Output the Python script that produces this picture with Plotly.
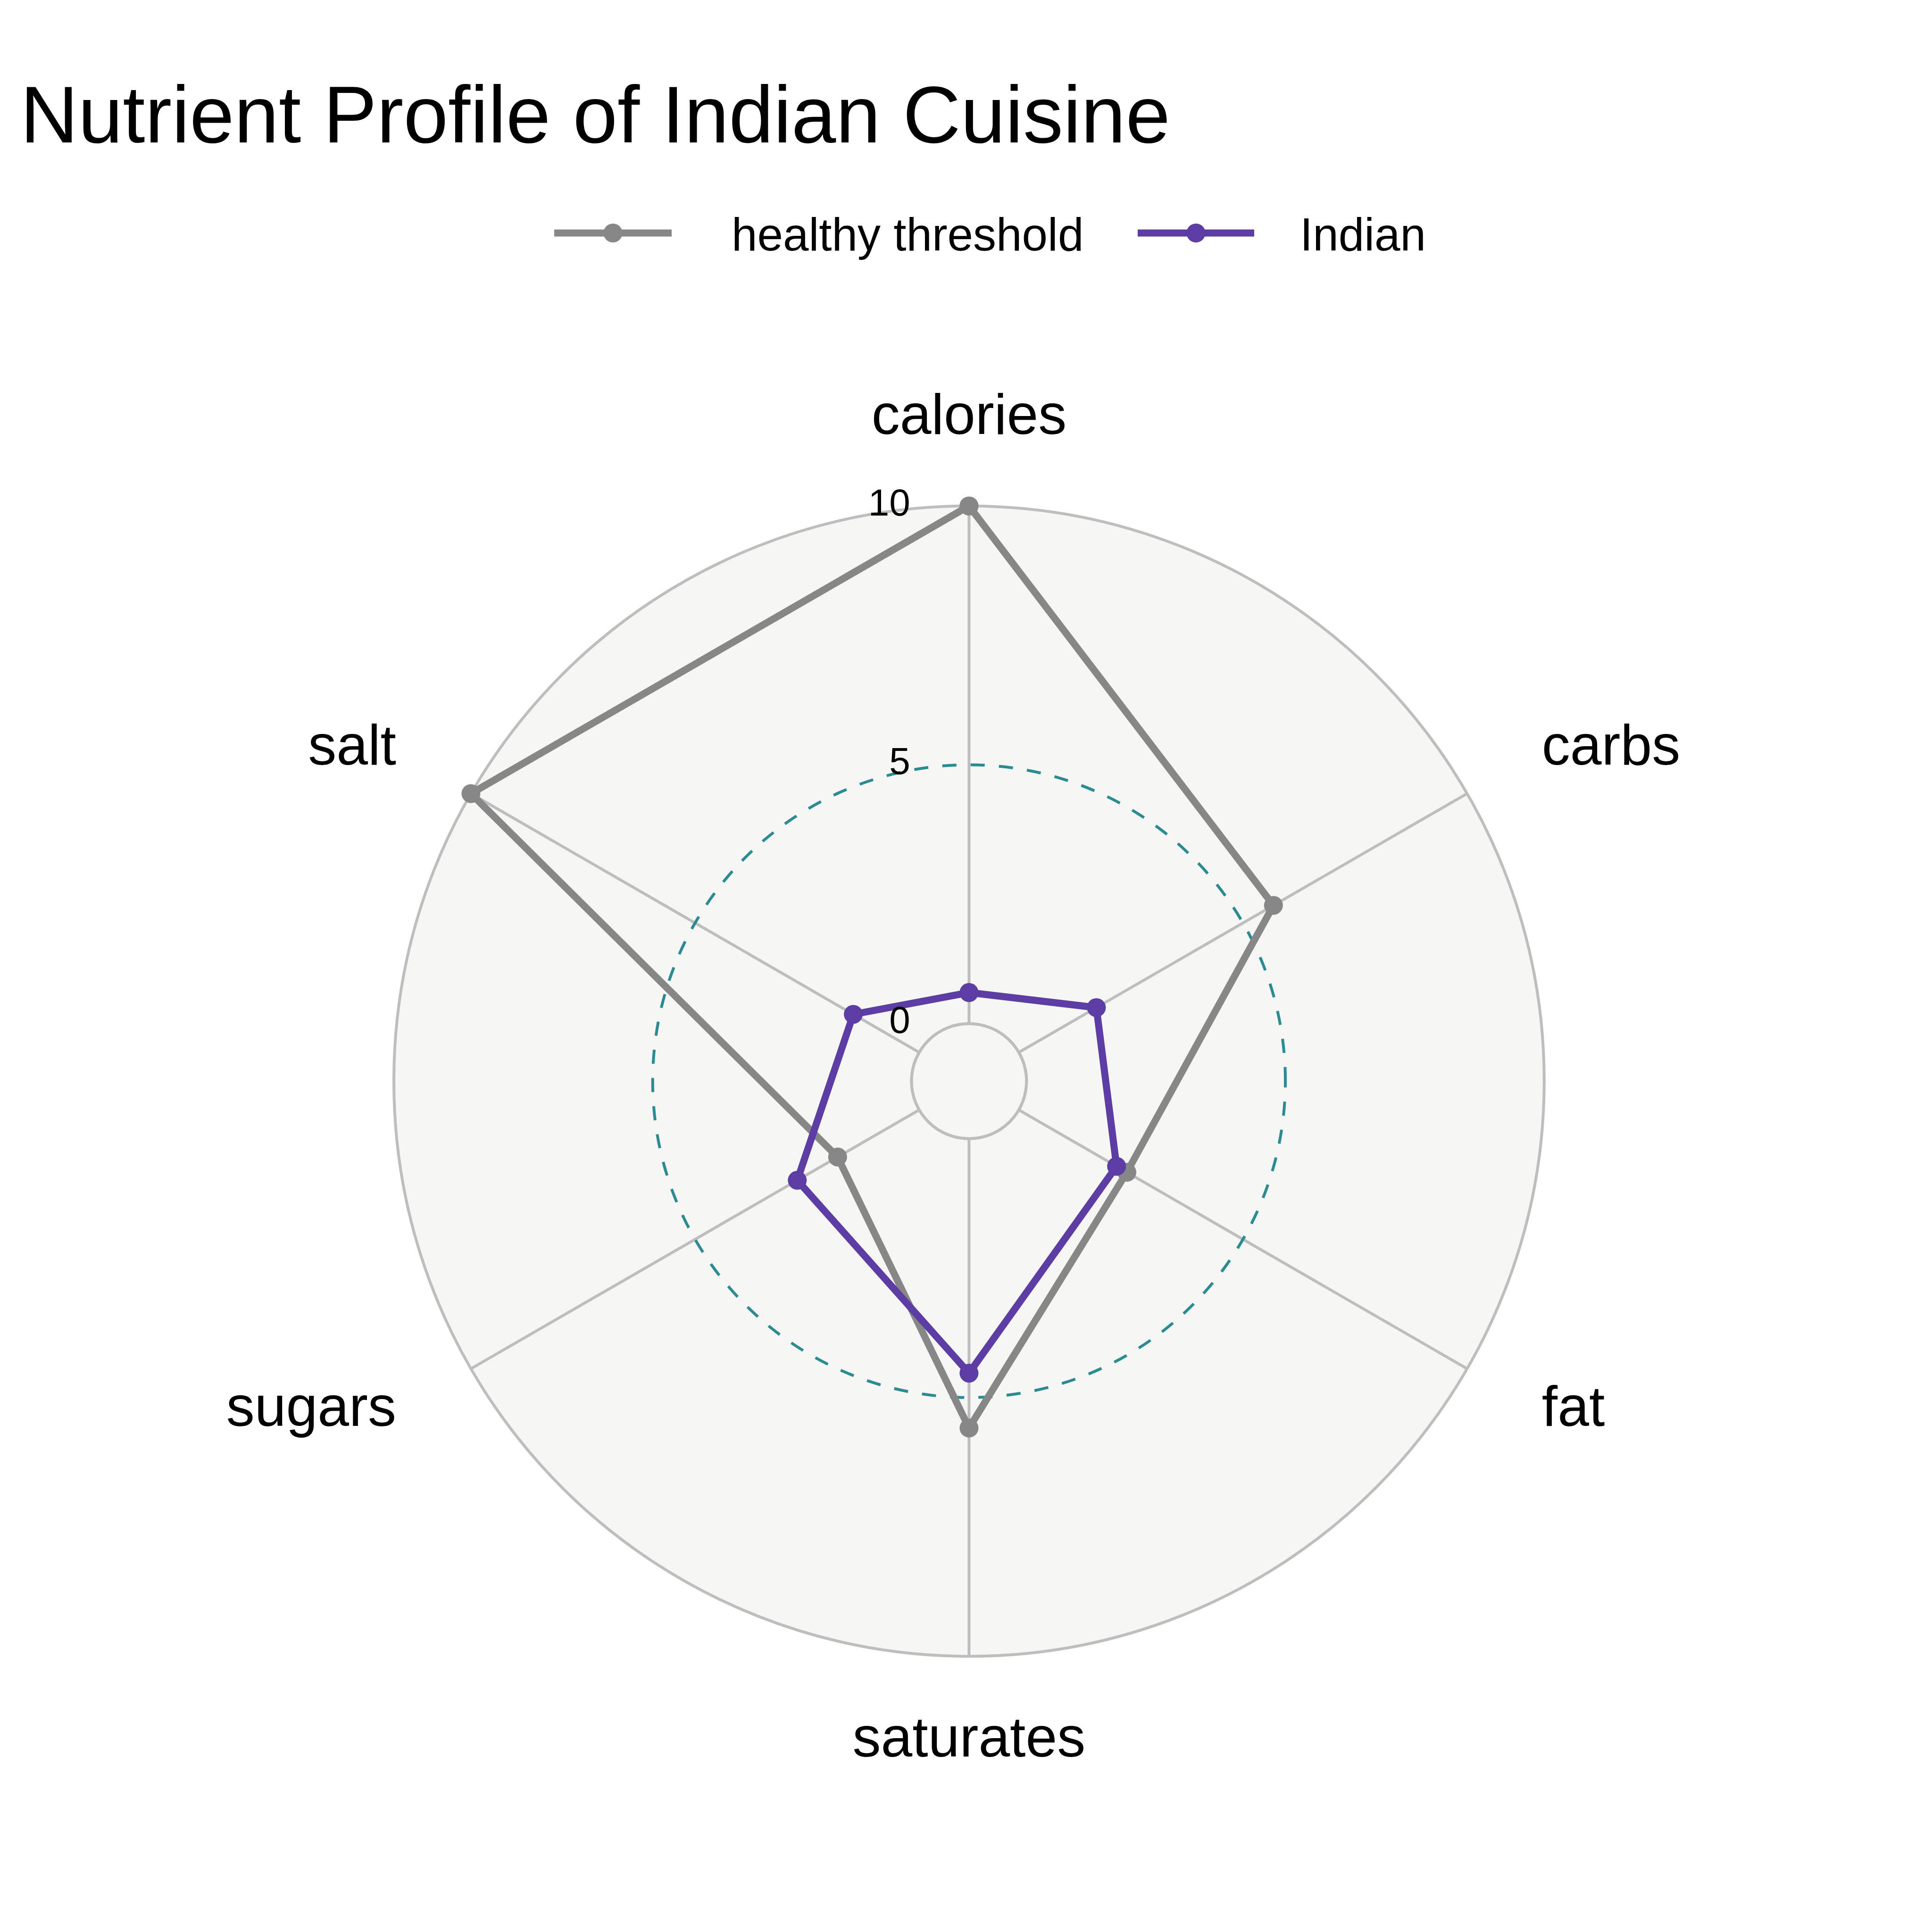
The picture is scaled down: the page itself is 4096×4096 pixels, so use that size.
import math
import plotly.graph_objects as go

# ---------------- data ----------------
categories = ["calories", "carbs", "fat", "saturates", "sugars", "salt"]
series_names = ["healthy threshold", "Indian"]
healthy_threshold = [10.0, 5.68, 2.41, 5.59, 1.82, 10.0]
indian = [0.60, 1.73, 2.18, 4.53, 2.72, 1.47]
series_values = [healthy_threshold, indian]
series_colors = ["#878787", "#5C3DA3"]
grid_values = [0, 5, 10]
grid_labels = ["0", "5", "10"]
title_text = "Nutrient Profile of Indian Cuisine"

# ---------------- layout constants (4096 px canvas) ----------------
W = 4096
FONT = "Liberation Sans, Arial, Helvetica, sans-serif"
BG = "#F6F6F4"
GRID_GREY = "#BEBEBE"
MID_TEAL = "#2A8C92"

cx, cy, R = 2054.4, 2292.1, 1219.4


def domain(radius):
    return dict(x=[(cx - radius) / W, (cx + radius) / W],
                y=[1 - (cy + radius) / W, 1 - (cy - radius) / W])


gmin, gmid, gmax = grid_values
centre = gmin - (gmax - gmin) / 9.0
hole = (gmin - centre) / (gmax - centre)
label_r = centre + 1.15 * (gmax - centre)
# the data/label subplot is drawn larger with a proportionally larger range,
# so the value->pixel scale is identical while labels stay inside its range
K = 1.25
outer_max = centre + K * (gmax - centre)

hidden_radial = dict(showgrid=False, showline=False, showticklabels=False, ticks="")
hidden_angular = dict(showgrid=False, showline=False, showticklabels=False, ticks="",
                      rotation=90, direction="clockwise",
                      categoryorder="array", categoryarray=categories)

fig = go.Figure()

# dummy traces so the background subplots know the categories
for sp in ["polar", "polar2"]:
    fig.add_trace(go.Scatterpolar(
        r=[gmin] * len(categories), theta=categories, subplot=sp, mode="lines",
        line=dict(width=0, color="rgba(0,0,0,0)"), hoverinfo="skip", showlegend=False))

# data series
for name, vals, color in zip(series_names, series_values, series_colors):
    fig.add_trace(go.Scatterpolar(
        r=vals + [vals[0]], theta=categories + [categories[0]], subplot="polar3",
        name=name, mode="lines+markers",
        line=dict(color=color, width=15),
        marker=dict(color=color, size=40),
        showlegend=False))

# category labels at 1.15 x outer radius
positions = []
for i, _ in enumerate(categories):
    ang = math.radians(90 - i * 360.0 / len(categories))
    c = math.cos(ang)
    positions.append("middle right" if c > 0.1 else ("middle left" if c < -0.1 else "middle center"))
fig.add_trace(go.Scatterpolar(
    r=[label_r] * len(categories), theta=categories, subplot="polar3",
    mode="text", text=categories, textposition=positions,
    textfont=dict(family=FONT, size=120, color="black"),
    cliponaxis=False, hoverinfo="skip", showlegend=False))

# radial grid labels
fig.add_trace(go.Scatterpolar(
    r=grid_values, theta=[categories[0]] * len(grid_values), subplot="polar3",
    mode="markers+text", text=grid_labels, textposition="middle left",
    marker=dict(size=198, color="rgba(0,0,0,0)"),
    textfont=dict(family=FONT, size=80, color="black"),
    cliponaxis=False, hoverinfo="skip", showlegend=False))

fig.update_layout(
    width=W, height=W, autosize=False,
    margin=dict(l=0, r=0, t=0, b=0),
    paper_bgcolor="white", plot_bgcolor="white",
    font=dict(family=FONT, color="black"),
    showlegend=False,
    title=dict(text=title_text, x=43 / W, xanchor="left", y=1 - 183 / W, yanchor="top",
               font=dict(family=FONT, size=170, color="black")),
    polar=dict(
        domain=domain(R), bgcolor=BG, hole=0,
        radialaxis=dict(range=[centre, gmax], tickmode="array", tickvals=[gmin],
                        showgrid=True, gridcolor=GRID_GREY, gridwidth=6,
                        showline=False, showticklabels=False, ticks=""),
        angularaxis=hidden_angular,
    ),
    polar2=dict(
        domain=domain(R), bgcolor="rgba(0,0,0,0)", hole=hole,
        radialaxis=dict(range=[gmin, gmax], tickmode="array", tickvals=[gmid],
                        showgrid=True, gridcolor=MID_TEAL, gridwidth=6, griddash="30px,30px",
                        showline=False, showticklabels=False, ticks=""),
        angularaxis=dict(showgrid=True, gridcolor=GRID_GREY, gridwidth=6,
                         showline=True, linecolor=GRID_GREY, linewidth=6,
                         showticklabels=False, ticks="", rotation=90, direction="clockwise",
                         categoryorder="array", categoryarray=categories),
    ),
    polar3=dict(
        domain=domain(R * K), bgcolor="rgba(0,0,0,0)", hole=0,
        radialaxis=dict(range=[centre, outer_max], **hidden_radial),
        angularaxis=hidden_angular,
    ),
)

# ---------------- legend (drawn as decorations) ----------------
leg_y = 494
leg_line_x = [(1175, 1424), (2412, 2659)]
leg_text_x = [1549, 2754]
shapes, annos = [], []
for (x0, x1), tx, name, color in zip(leg_line_x, leg_text_x, series_names, series_colors):
    shapes.append(dict(type="line", xref="paper", yref="paper",
                       x0=x0 / W, x1=x1 / W, y0=1 - leg_y / W, y1=1 - leg_y / W,
                       line=dict(color=color, width=15)))
    mx = (x0 + x1) / 2
    shapes.append(dict(type="circle", xref="paper", yref="paper",
                       x0=(mx - 20) / W, x1=(mx + 20) / W,
                       y0=1 - (leg_y + 20) / W, y1=1 - (leg_y - 20) / W,
                       fillcolor=color, line=dict(width=0)))
    annos.append(dict(text=name, xref="paper", yref="paper", x=tx / W, y=1 - 497 / W,
                      xanchor="left", yanchor="middle", showarrow=False,
                      font=dict(family=FONT, size=98, color="black")))
fig.update_layout(shapes=shapes, annotations=annos)

fig.write_html("out.html")
